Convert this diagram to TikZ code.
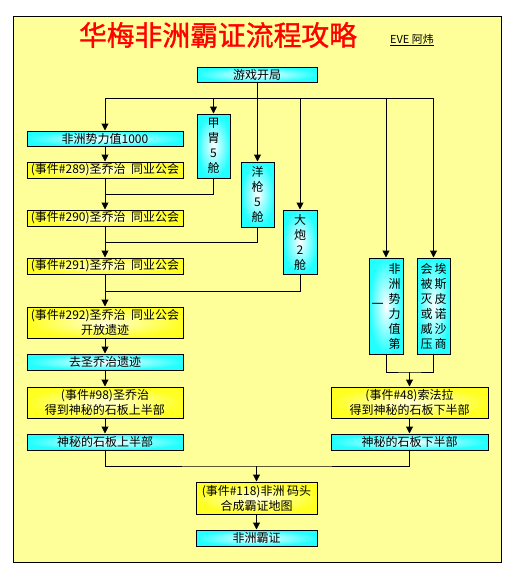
\documentclass[tikz,border=0pt]{standalone}
\usepackage{fontspec}
\setmainfont{Noto Sans CJK SC}
\newfontfamily\titlefont{Noto Sans CJK SC}[FakeBold=1.2]
\usetikzlibrary{arrows.meta}
\definecolor{bgyellow}{HTML}{FFFF99}
\definecolor{boxcyan}{HTML}{22FFFF}
\definecolor{boxyellow}{HTML}{FFFF22}
\definecolor{titlered}{HTML}{FF0000}
\tikzset{
  cbox/.style={draw=black, line width=1pt, inner sep=0pt, inner color=white, outer color=boxcyan, font=\fontsize{12}{15}\selectfont, align=center},
  ybox/.style={draw=black, line width=1pt, inner sep=0pt, inner color=yellow!15!white, outer color=boxyellow, font=\fontsize{12}{15}\selectfont, align=center},
  wire/.style={line width=1pt, draw=black},
  arr/.style={wire, -{Triangle[width=7pt,length=7pt]}},
}
\begin{document}
\begin{tikzpicture}[x=1pt,y=-1pt]
\useasboundingbox (0,0) rectangle (514,579);
\fill[white] (0,0) rectangle (514,579);
\draw[line width=1pt, fill=bgyellow] (13,16) rectangle (501,562);
\node[text=titlered, font=\titlefont\fontsize{27.8}{28}\selectfont] (title) at (218,35) {华梅非洲霸证流程攻略};
\node[font=\fontsize{11}{11}\selectfont] (author) at (412,40) {\underline{EVE 阿炜}};

\node[cbox, minimum width=120pt, minimum height=15pt] (start) at (257,74.5) {游戏开局};

\node[cbox, minimum width=156pt, minimum height=15pt] (L1) at (105,138.5) {非洲势力值1000};
\node[ybox, minimum width=156pt, minimum height=16pt] (L2) at (105,170) {(事件\#289)圣乔治\ \ 同业公会};
\node[ybox, minimum width=156pt, minimum height=16pt] (L3) at (105,218) {(事件\#290)圣乔治\ \ 同业公会};
\node[ybox, minimum width=156pt, minimum height=16pt] (L4) at (105,266) {(事件\#291)圣乔治\ \ 同业公会};
\node[ybox, minimum width=156pt, minimum height=31pt] (L5) at (105,322.5) {(事件\#292)圣乔治\ \ 同业公会\\开放遗迹};
\node[cbox, minimum width=156pt, minimum height=16pt] (L6) at (105,362) {去圣乔治遗迹};
\node[ybox, minimum width=156pt, minimum height=31pt] (L7) at (105,402.5) {(事件\#98)圣乔治\\得到神秘的石板上半部};
\node[cbox, minimum width=156pt, minimum height=16pt] (L8) at (105,442) {神秘的石板上半部};

\node[cbox, minimum width=33pt, minimum height=64pt] (jz) at (213.5,146) {甲\\胄\\5\\舱};
\node[cbox, minimum width=33pt, minimum height=65pt] (yq) at (257.5,194.5) {洋\\枪\\5\\舱};
\node[cbox, minimum width=34pt, minimum height=64pt] (dp) at (300,242) {大\\炮\\2\\舱};
\node[cbox, minimum width=34pt, minimum height=96pt] (fz) at (386,306)
  {\parbox[c]{12pt}{\centering 一}\hspace{5pt}\parbox[c]{12pt}{\centering 非\\洲\\势\\力\\值\\第}};
\node[cbox, minimum width=33pt, minimum height=96pt] (as) at (433.5,306)
  {\parbox[c]{12pt}{\centering 会\\被\\灭\\或\\威\\压}\hspace{2pt}\parbox[c]{12pt}{\centering 埃\\斯\\皮\\诺\\沙\\商}};

\node[ybox, minimum width=157pt, minimum height=31pt] (R1) at (409.5,402.5) {(事件\#48)索法拉\\得到神秘的石板下半部};
\node[cbox, minimum width=157pt, minimum height=16pt] (R2) at (409.5,442) {神秘的石板下半部};

\node[ybox, minimum width=121pt, minimum height=32pt] (B1) at (256.5,498) {(事件\#118)非洲\ 码头\\合成霸证地图};
\node[cbox, minimum width=121pt, minimum height=16pt] (B2) at (256.5,538) {非洲霸证};

% bus
\coordinate (busL) at (105,98);
\coordinate (busR) at (433.5,98);
\coordinate (busC) at (257,98);
\draw[wire] (start.south) -- (busC);
\draw[wire] (busL) -- (busR);
\draw[arr] (busL) -- (L1.north);
\draw[arr] (jz.north |- busL) -- (jz.north);
\draw[arr] (yq.north |- busL) -- (yq.north);
\draw[arr] (dp.north |- busL) -- (dp.north);
\draw[arr] (fz.north |- busL) -- (fz.north);
\draw[arr] (as.north |- busL) -- (as.north);

% left column
\coordinate (j1) at (105,194);
\coordinate (j2) at (105,242);
\coordinate (j3) at (105,291);
\draw[arr] (L1) -- (L2);
\draw[arr] (L2) -- (L3);
\draw[wire] (jz.south) |- (j1);
\draw[arr] (L3) -- (L4);
\draw[wire] (yq.south) |- (j2);
\draw[arr] (L4) -- (L5);
\draw[wire] (dp.south) |- (j3);
\draw[arr] (L5) -- (L6);
\draw[arr] (L6) -- (L7);
\draw[arr] (L7) -- (L8);

% right column
\coordinate (rj) at (409.5,372);
\draw[wire] (fz.south) |- (rj) -| (as.south);
\draw[arr] (rj) -- (R1.north);
\draw[arr] (R1) -- (R2);

% bottom
\coordinate (bj) at (256.5,466);
\draw[wire] (L8.south) |- (bj) -| (R2.south);
\draw[arr] (bj) -- (B1.north);
\draw[arr] (B1) -- (B2);
\end{tikzpicture}
\end{document}
